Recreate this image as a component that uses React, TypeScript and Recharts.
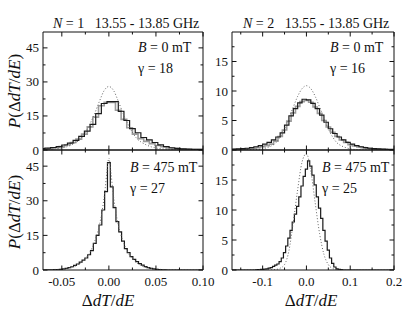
import { LineChart, Line, XAxis, YAxis } from 'recharts';

const W = 415;
const H = 318;
const FONT = "'Liberation Serif', 'DejaVu Serif', serif";

// ---- N = 1, B = 0 mT (top left) ----
const tlBlackX = [-0.077, -0.071, -0.065, -0.059, -0.053, -0.047, -0.041, -0.035, -0.029, -0.023, -0.017, -0.011, -0.005, 0.001, 0.007, 0.013, 0.019, 0.025, 0.031, 0.037, 0.043, 0.049, 0.055, 0.061, 0.067, 0.073, 0.079, 0.085, 0.091, 0.097, 0.103];
const tlBlackY = [0.5, 0.6, 0.8, 1.1, 1.5, 2.2, 3.0, 4.2, 6.0, 8.3, 11.3, 16.0, 20.5, 21.3, 21.3, 17.0, 13.0, 9.4, 7.6, 5.5, 4.5, 3.3, 2.3, 1.5, 1.0, 0.7, 0.5, 0.4, 0.3, 0.3, 0.3];
const tlGreyX = [-0.074, -0.068, -0.062, -0.056, -0.05, -0.044, -0.038, -0.032, -0.026, -0.02, -0.014, -0.008, -0.002, 0.004, 0.01, 0.016, 0.022, 0.028, 0.034, 0.04, 0.046, 0.052, 0.058, 0.064, 0.07, 0.076, 0.082, 0.088, 0.094, 0.1, 0.106];
const tlGreyY = [0.3, 0.4, 0.6, 1.0, 1.5, 2.3, 3.3, 4.8, 7.0, 10.2, 14.5, 19.5, 21.0, 21.0, 17.5, 13.5, 9.8, 7.0, 5.0, 3.8, 2.8, 2.0, 1.4, 0.9, 0.6, 0.4, 0.3, 0.2, 0.2, 0.2, 0.2];
const tlFitX = [-0.08, -0.07, -0.06, -0.05, -0.045, -0.04, -0.035, -0.03, -0.025, -0.02, -0.015, -0.01, -0.005, 0, 0.005, 0.01, 0.015, 0.02, 0.025, 0.03, 0.035, 0.04, 0.045, 0.05, 0.06, 0.07, 0.08, 0.1];
const tlFitY = [0.1, 0.2, 0.4, 0.9, 1.4, 2.2, 3.3, 4.9, 7.8, 11.6, 16.2, 21.5, 26.2, 28.0, 26.2, 21.5, 16.2, 11.6, 7.8, 4.9, 3.3, 2.2, 1.4, 0.9, 0.4, 0.2, 0.1, 0.05];

// ---- N = 2, B = 0 mT (top right) ----
const trBlackX = [-0.175, -0.165, -0.155, -0.145, -0.135, -0.125, -0.115, -0.105, -0.095, -0.085, -0.075, -0.065, -0.055, -0.045, -0.035, -0.025, -0.015, -0.005, 0.005, 0.015, 0.025, 0.035, 0.045, 0.055, 0.065, 0.075, 0.085, 0.095, 0.105, 0.115, 0.125, 0.135, 0.145, 0.155, 0.165, 0.175, 0.185, 0.195, 0.205];
const trBlackY = [0.1, 0.15, 0.2, 0.25, 0.3, 0.4, 0.55, 0.75, 1.0, 1.3, 1.7, 2.2, 2.9, 4.2, 5.8, 7.0, 8.0, 8.6, 8.5, 7.9, 7.0, 5.9, 4.7, 3.6, 2.8, 2.2, 1.7, 1.3, 1.0, 0.75, 0.55, 0.4, 0.3, 0.25, 0.2, 0.15, 0.1, 0.1, 0.1];
const trGreyX = [-0.17, -0.16, -0.15, -0.14, -0.13, -0.12, -0.11, -0.1, -0.09, -0.08, -0.07, -0.06, -0.05, -0.04, -0.03, -0.02, -0.01, 0, 0.01, 0.02, 0.03, 0.04, 0.05, 0.06, 0.07, 0.08, 0.09, 0.1, 0.11, 0.12, 0.13, 0.14, 0.15, 0.16, 0.17, 0.18, 0.19, 0.2];
const trGreyY = [0.05, 0.1, 0.1, 0.15, 0.2, 0.3, 0.4, 0.55, 0.75, 1.0, 1.5, 2.3, 3.4, 4.9, 6.3, 7.4, 8.2, 8.4, 8.1, 7.3, 6.2, 5.0, 3.9, 3.0, 2.3, 1.7, 1.3, 0.9, 0.7, 0.5, 0.4, 0.3, 0.2, 0.15, 0.1, 0.1, 0.05, 0.05];
const trFitX = [-0.17, -0.12, -0.1, -0.09, -0.08, -0.07, -0.06, -0.05, -0.04, -0.03, -0.02, -0.01, 0, 0.01, 0.02, 0.03, 0.04, 0.05, 0.06, 0.07, 0.08, 0.09, 0.1, 0.12, 0.2];
const trFitY = [0, 0.05, 0.2, 0.4, 0.7, 1.2, 2.2, 3.6, 5.4, 7.3, 9.1, 10.4, 10.9, 10.4, 9.1, 7.3, 5.4, 3.6, 2.2, 1.2, 0.7, 0.4, 0.2, 0.05, 0];

// ---- N = 1, B = 475 mT (bottom left) ----
const blBlackX = [-0.075, -0.069, -0.066, -0.063, -0.06, -0.057, -0.054, -0.051, -0.048, -0.045, -0.042, -0.039, -0.036, -0.033, -0.03, -0.027, -0.024, -0.021, -0.018, -0.015, -0.012, -0.009, -0.006, -0.003, 0, 0.003, 0.006, 0.009, 0.012, 0.015, 0.018, 0.021, 0.024, 0.027, 0.03, 0.033, 0.036, 0.039, 0.042, 0.045, 0.048, 0.051, 0.054, 0.057, 0.06, 0.063, 0.066, 0.105];
const blBlackY = [0, 0, 0, 0.05, 0.1, 0.15, 0.2, 0.3, 0.5, 0.7, 1.0, 1.4, 2.0, 2.6, 3.4, 4.3, 5.2, 6.6, 8.4, 11.5, 15.0, 19.5, 26, 34, 46.5, 36, 27, 21, 16.5, 12.5, 9.3, 7.5, 5.8, 4.6, 3.6, 2.8, 2.1, 1.5, 1.0, 0.7, 0.45, 0.3, 0.2, 0.1, 0.05, 0, 0, 0];
const blFitX = [-0.08, -0.07, -0.06, -0.05, -0.045, -0.04, -0.035, -0.03, -0.025, -0.02, -0.015, -0.01, -0.007, -0.004, -0.002, 0, 0.002, 0.004, 0.007, 0.01, 0.015, 0.02, 0.025, 0.03, 0.035, 0.04, 0.045, 0.05, 0.06, 0.07, 0.1];
const blFitY = [0.05, 0.1, 0.2, 0.4, 0.7, 1.1, 1.8, 3.0, 4.9, 7.8, 12.5, 19.5, 26, 35, 43, 48.5, 43, 35, 26, 19.5, 12.5, 7.8, 4.9, 3.0, 1.8, 1.1, 0.7, 0.4, 0.2, 0.1, 0];

// ---- N = 2, B = 475 mT (bottom right) ----
const brBlackX = [-0.175, -0.12, -0.11, -0.1, -0.095, -0.09, -0.085, -0.08, -0.075, -0.07, -0.065, -0.06, -0.055, -0.05, -0.045, -0.04, -0.035, -0.03, -0.025, -0.02, -0.015, -0.01, -0.005, 0, 0.005, 0.01, 0.015, 0.02, 0.025, 0.03, 0.035, 0.04, 0.045, 0.05, 0.055, 0.06, 0.065, 0.07, 0.075, 0.08, 0.085, 0.205];
const brBlackY = [0, 0, 0.05, 0.1, 0.15, 0.2, 0.3, 0.4, 0.6, 0.8, 1.0, 1.4, 2.0, 2.9, 4.0, 5.3, 6.6, 8.0, 9.3, 10.6, 12.2, 14.0, 15.6, 16.8, 18.2, 17.3, 15.8, 14.2, 12.2, 10.3, 8.6, 6.6, 4.8, 3.3, 2.0, 1.1, 0.5, 0.2, 0.1, 0.05, 0, 0];
const brFitX = [-0.17, -0.09, -0.08, -0.07, -0.06, -0.05, -0.04, -0.03, -0.02, -0.01, 0, 0.01, 0.02, 0.03, 0.04, 0.05, 0.06, 0.07, 0.08, 0.2];
const brFitY = [0, 0.01, 0.03, 0.08, 0.3, 0.9, 3.2, 8.0, 13.4, 18.0, 19.4, 16.5, 11.2, 6.1, 2.6, 0.9, 0.25, 0.05, 0.01, 0];

const leftXTicks = [-0.05, -0.025, 0, 0.025, 0.05, 0.075, 0.1];
const leftXMajor = [-0.05, 0, 0.05, 0.1];
const rightXTicks = [-0.15, -0.1, -0.05, 0, 0.05, 0.1, 0.15, 0.2];
const rightXMajor = [-0.1, 0, 0.1, 0.2];
const leftYTicks = [0, 7.5, 15, 22.5, 30, 37.5, 45];
const leftYMajor = [0, 15, 30, 45];
const rightYTicks = [0, 2.5, 5, 7.5, 10, 12.5, 15, 17.5];
const rightYMajor = [0, 5, 10, 15];

const zip = (xs: number[], ys: number[]) => xs.map((x, i) => ({ x, y: ys[i] }));
const has = (arr: number[], v: number) => arr.some((a) => Math.abs(a - v) < 1e-9);

type Side = 'bottom' | 'top' | 'left' | 'right';

function Tick(props: any) {
  const { x, y, payload, side, major, fmt } = props;
  const v = payload.value;
  const len = has(major, v) ? 4.5 : 2.5;
  const lbl = fmt && has(major, v);
  const s = side as Side;
  if (s === 'bottom' || s === 'top') {
    const d = s === 'bottom' ? -1 : 1;
    return (
      <g>
        <line x1={x} x2={x} y1={y} y2={y + d * len} stroke="#111" strokeWidth={1} />
        {lbl && (
          <text x={x} y={y + 16} textAnchor="middle" style={{ fontFamily: FONT, fontSize: 13 }} fill="#111">
            {fmt(v)}
          </text>
        )}
      </g>
    );
  }
  const d = s === 'left' ? 1 : -1;
  return (
    <g>
      <line x1={x} x2={x + d * len} y1={y} y2={y} stroke="#111" strokeWidth={1} />
      {lbl && (
        <text x={x - 4} y={y + 4.5} textAnchor="end" style={{ fontFamily: FONT, fontSize: 13 }} fill="#111">
          {fmt(v)}
        </text>
      )}
    </g>
  );
}

interface PanelProps {
  box: [number, number, number, number]; // left, top, right, bottom
  xDomain: [number, number];
  yDomain: [number, number];
  xTicks: number[];
  xMajor: number[];
  yTicks: number[];
  yMajor: number[];
  xFmt?: (v: number) => string;
  black: { x: number; y: number }[];
  grey?: { x: number; y: number }[];
  fit: { x: number; y: number }[];
}

// axes get 1px of room each, the margins make up the rest
function Panel({ box, xDomain, yDomain, xTicks, xMajor, yTicks, yMajor, xFmt, black, grey, fit }: PanelProps) {
  const [l, t, r, b] = box;
  const axisLine = { stroke: '#111', strokeWidth: 1 };
  return (
    <div style={{ position: 'absolute', left: 0, top: 0 }}>
      <LineChart width={W} height={H} margin={{ left: l - 1, top: t - 1, right: W - r - 1, bottom: H - b - 1 }}>
        <XAxis xAxisId="b" dataKey="x" type="number" domain={xDomain} allowDataOverflow ticks={xTicks} interval={0}
          height={1} tickSize={0} tickMargin={0} axisLine={axisLine} tickLine={false}
          tick={(p: any) => <Tick {...p} side="bottom" major={xMajor} fmt={xFmt} />} />
        <XAxis xAxisId="t" orientation="top" dataKey="x" type="number" domain={xDomain} allowDataOverflow ticks={xTicks} interval={0}
          height={1} tickSize={0} tickMargin={0} axisLine={axisLine} tickLine={false}
          tick={(p: any) => <Tick {...p} side="top" major={xMajor} />} />
        <YAxis yAxisId="l" type="number" domain={yDomain} allowDataOverflow ticks={yTicks} interval={0}
          width={1} tickSize={0} tickMargin={0} axisLine={axisLine} tickLine={false}
          tick={(p: any) => <Tick {...p} side="left" major={yMajor} fmt={(v: number) => String(v)} />} />
        <YAxis yAxisId="r" orientation="right" type="number" domain={yDomain} allowDataOverflow ticks={yTicks} interval={0}
          width={1} tickSize={0} tickMargin={0} axisLine={axisLine} tickLine={false}
          tick={(p: any) => <Tick {...p} side="right" major={yMajor} />} />
        {grey && (
          <Line xAxisId="b" yAxisId="l" data={grey} dataKey="y" type="step" stroke="#9a9a9a" strokeWidth={1.6}
            dot={false} isAnimationActive={false} />
        )}
        <Line xAxisId="b" yAxisId="l" data={black} dataKey="y" type="step" stroke="#1a1a1a" strokeWidth={1.2}
          dot={false} isAnimationActive={false} />
        <Line xAxisId="b" yAxisId="l" data={fit} dataKey="y" type="monotone" stroke="#666" strokeWidth={1}
          strokeDasharray="1 2" dot={false} isAnimationActive={false} />
      </LineChart>
    </div>
  );
}

function YTitle({ cx, cy }: { cx: number; cy: number }) {
  return (
    <text x={cx} y={cy} transform={`rotate(-90 ${cx} ${cy})`} textAnchor="middle" style={{ fontFamily: FONT, fontSize: 17 }} fill="#111">
      <tspan fontStyle="italic">P</tspan>(Δ<tspan fontStyle="italic">dT</tspan>/<tspan fontStyle="italic">dE</tspan>)
    </text>
  );
}

function XTitle({ cx, y }: { cx: number; y: number }) {
  return (
    <text x={cx} y={y} textAnchor="middle" style={{ fontFamily: FONT, fontSize: 17 }} fill="#111">
      Δ<tspan fontStyle="italic">dT</tspan>/<tspan fontStyle="italic">dE</tspan>
    </text>
  );
}

function Note({ x, y, b, g }: { x: number; y: number; b: string; g: string }) {
  return (
    <g style={{ fontFamily: FONT, fontSize: 14 }} fill="#111">
      <text x={x} y={y} style={{ whiteSpace: 'pre' }}>
        <tspan fontStyle="italic">B</tspan> = {b} mT
      </text>
      <text x={x} y={y + 21} style={{ whiteSpace: 'pre' }}>γ = {g}</text>
    </g>
  );
}

export default function App() {
  const f2 = (v: number) => v.toFixed(2);
  const f1 = (v: number) => v.toFixed(1);
  return (
    <div style={{ position: 'absolute', left: 0, top: 0, width: W, height: H, background: '#fff' }}>
      <Panel box={[43, 32, 203, 150]} xDomain={[-0.07, 0.1]} yDomain={[0, 52]} xTicks={leftXTicks} xMajor={leftXMajor}
        yTicks={leftYTicks} yMajor={leftYMajor} black={zip(tlBlackX, tlBlackY)} grey={zip(tlGreyX, tlGreyY)} fit={zip(tlFitX, tlFitY)} />
      <Panel box={[232, 32, 394, 150]} xDomain={[-0.17, 0.2]} yDomain={[0, 20]} xTicks={rightXTicks} xMajor={rightXMajor}
        yTicks={rightYTicks} yMajor={rightYMajor} black={zip(trBlackX, trBlackY)} grey={zip(trGreyX, trGreyY)} fit={zip(trFitX, trFitY)} />
      <Panel box={[43, 150, 203, 270]} xDomain={[-0.07, 0.1]} yDomain={[0, 52]} xTicks={leftXTicks} xMajor={leftXMajor}
        yTicks={leftYTicks} yMajor={leftYMajor} xFmt={f2} black={zip(blBlackX, blBlackY)} fit={zip(blFitX, blFitY)} />
      <Panel box={[232, 150, 394, 270]} xDomain={[-0.17, 0.2]} yDomain={[0, 20]} xTicks={rightXTicks} xMajor={rightXMajor}
        yTicks={rightYTicks} yMajor={rightYMajor} xFmt={f1} black={zip(brBlackX, brBlackY)} fit={zip(brFitX, brFitY)} />
      <svg width={W} height={H} style={{ position: 'absolute', left: 0, top: 0, pointerEvents: 'none' }}>
        <g style={{ fontFamily: FONT, fontSize: 14 }} fill="#111">
          <text x={53} y={28} style={{ whiteSpace: 'pre' }}>
            <tspan fontStyle="italic">N</tspan> = 1   13.55 - 13.85 GHz
          </text>
          <text x={243} y={28} style={{ whiteSpace: 'pre' }}>
            <tspan fontStyle="italic">N</tspan> = 2   13.55 - 13.85 GHz
          </text>
        </g>
        <Note x={138} y={52} b="0" g="18" />
        <Note x={330} y={52} b="0" g="16" />
        <Note x={130} y={172} b="475" g="27" />
        <Note x={322} y={172} b="475" g="25" />
        <YTitle cx={20} cy={91} />
        <YTitle cx={20} cy={212} />
        <XTitle cx={108} y={306} />
        <XTitle cx={311} y={306} />
      </svg>
    </div>
  );
}
